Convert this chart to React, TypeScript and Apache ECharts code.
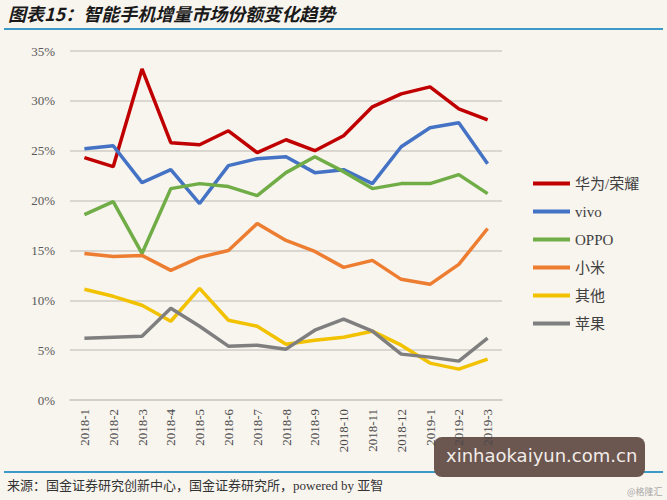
import React, { useEffect, useRef } from "react";
import * as echarts from "echarts";

const months = [
  "2018-1", "2018-2", "2018-3", "2018-4", "2018-5", "2018-6", "2018-7", "2018-8",
  "2018-9", "2018-10", "2018-11", "2018-12", "2019-1", "2019-2", "2019-3",
];

const huawei = [24.3, 23.4, 33.2, 25.8, 25.6, 27.0, 24.8, 26.1, 25.0, 26.5, 29.4, 30.7, 31.4, 29.2, 28.1];
const vivo = [25.2, 25.5, 21.8, 23.1, 19.7, 23.5, 24.2, 24.4, 22.8, 23.1, 21.7, 25.4, 27.3, 27.8, 23.7];
const oppo = [18.6, 19.9, 14.7, 21.2, 21.7, 21.4, 20.5, 22.8, 24.4, 22.9, 21.2, 21.7, 21.7, 22.6, 20.7];
const xiaomi = [14.7, 14.4, 14.5, 13.0, 14.3, 15.0, 17.7, 16.0, 14.9, 13.3, 14.0, 12.1, 11.6, 13.6, 17.2];
const others = [11.1, 10.4, 9.5, 7.9, 11.2, 8.0, 7.4, 5.6, 6.0, 6.3, 6.9, 5.5, 3.7, 3.1, 4.1];
const apple = [6.2, 6.3, 6.4, 9.2, 7.4, 5.4, 5.5, 5.1, 7.0, 8.1, 6.9, 4.6, 4.3, 3.9, 6.2];

const seriesNames = ["华为/荣耀", "vivo", "OPPO", "小米", "其他", "苹果"];
const seriesColors = ["#c00000", "#4472c4", "#70ad47", "#ed7d31", "#f2c200", "#7f7f7f"];
const seriesData = [huawei, vivo, oppo, xiaomi, others, apple];

const serif = "'Liberation Serif', 'Noto Sans CJK SC', serif";

export default function App() {
  const chartRef = useRef<HTMLDivElement>(null);

  useEffect(() => {
    const chart = echarts.init(chartRef.current!, undefined, { renderer: "svg" });

    chart.setOption({
      animation: false,
      backgroundColor: "#f8f4ee",
      grid: { left: 70, right: 165, top: 51, bottom: 100 },
      legend: {
        orient: "vertical",
        left: 528,
        top: 171,
        itemWidth: 37,
        itemHeight: 4,
        itemGap: 13,
        icon: "rect",
        data: seriesNames,
        textStyle: { fontFamily: serif, fontSize: 15, color: "#404040", lineHeight: 15 },
      },
      xAxis: {
        type: "category",
        data: months,
        axisLine: { lineStyle: { color: "#d0ccc6", width: 1.5 } },
        axisTick: { show: false },
        axisLabel: {
          rotate: 90,
          interval: 0,
          margin: 9,
          fontFamily: serif,
          fontSize: 13,
          color: "#4a4a4a",
        },
      },
      yAxis: {
        type: "value",
        min: 0,
        max: 35,
        interval: 5,
        axisLine: { show: false },
        axisTick: { show: false },
        splitLine: { lineStyle: { color: "#d0ccc6", width: 1.5 } },
        axisLabel: {
          formatter: "{value}%",
          margin: 15,
          fontFamily: serif,
          fontSize: 13,
          color: "#595959",
        },
      },
      series: seriesNames.map((name, i) => ({
        name,
        type: "line",
        data: seriesData[i],
        symbol: "none",
        color: seriesColors[i],
        lineStyle: { width: 3.5, color: seriesColors[i] },
      })),
      graphic: [
        {
          type: "text",
          left: 8,
          top: 4,
          style: {
            text: "图表15：智能手机增量市场份额变化趋势",
            font: "italic bold 18px 'Noto Sans CJK SC', sans-serif",
            fill: "#1a1a1a",
          },
        },
        {
          type: "line",
          shape: { x1: 4, y1: 29, x2: 663, y2: 29 },
          style: { stroke: "#3d9ac8", lineWidth: 2 },
        },
        {
          type: "line",
          shape: { x1: 4, y1: 472, x2: 663, y2: 472 },
          style: { stroke: "#3d9ac8", lineWidth: 2 },
        },
        {
          type: "text",
          left: 7,
          top: 479,
          style: {
            text: "来源：国金证券研究创新中心，国金证券研究所，powered by 亚智",
            font: "13px 'Liberation Serif', 'Noto Sans CJK SC', serif",
            fill: "#333333",
          },
        },
        {
          type: "rect",
          shape: { x: 434, y: 437, width: 211, height: 40, r: 8 },
          style: { fill: "#6b5650" },
        },
        {
          type: "text",
          left: 446,
          top: 446,
          style: {
            text: "xinhaokaiyun.com.cn",
            font: "18px 'DejaVu Sans', sans-serif",
            fill: "#f2ece8",
          },
        },
        {
          type: "text",
          left: 627,
          top: 487,
          style: {
            text: "@格隆汇",
            font: "9px 'Noto Sans CJK SC', sans-serif",
            fill: "#a8a8a8",
          },
        },
      ],
    });

    return () => {
      chart.dispose();
    };
  }, []);

  return (
    <div
      ref={chartRef}
      style={{ position: "fixed", left: 0, top: 0, width: 667, height: 500 }}
    />
  );
}
